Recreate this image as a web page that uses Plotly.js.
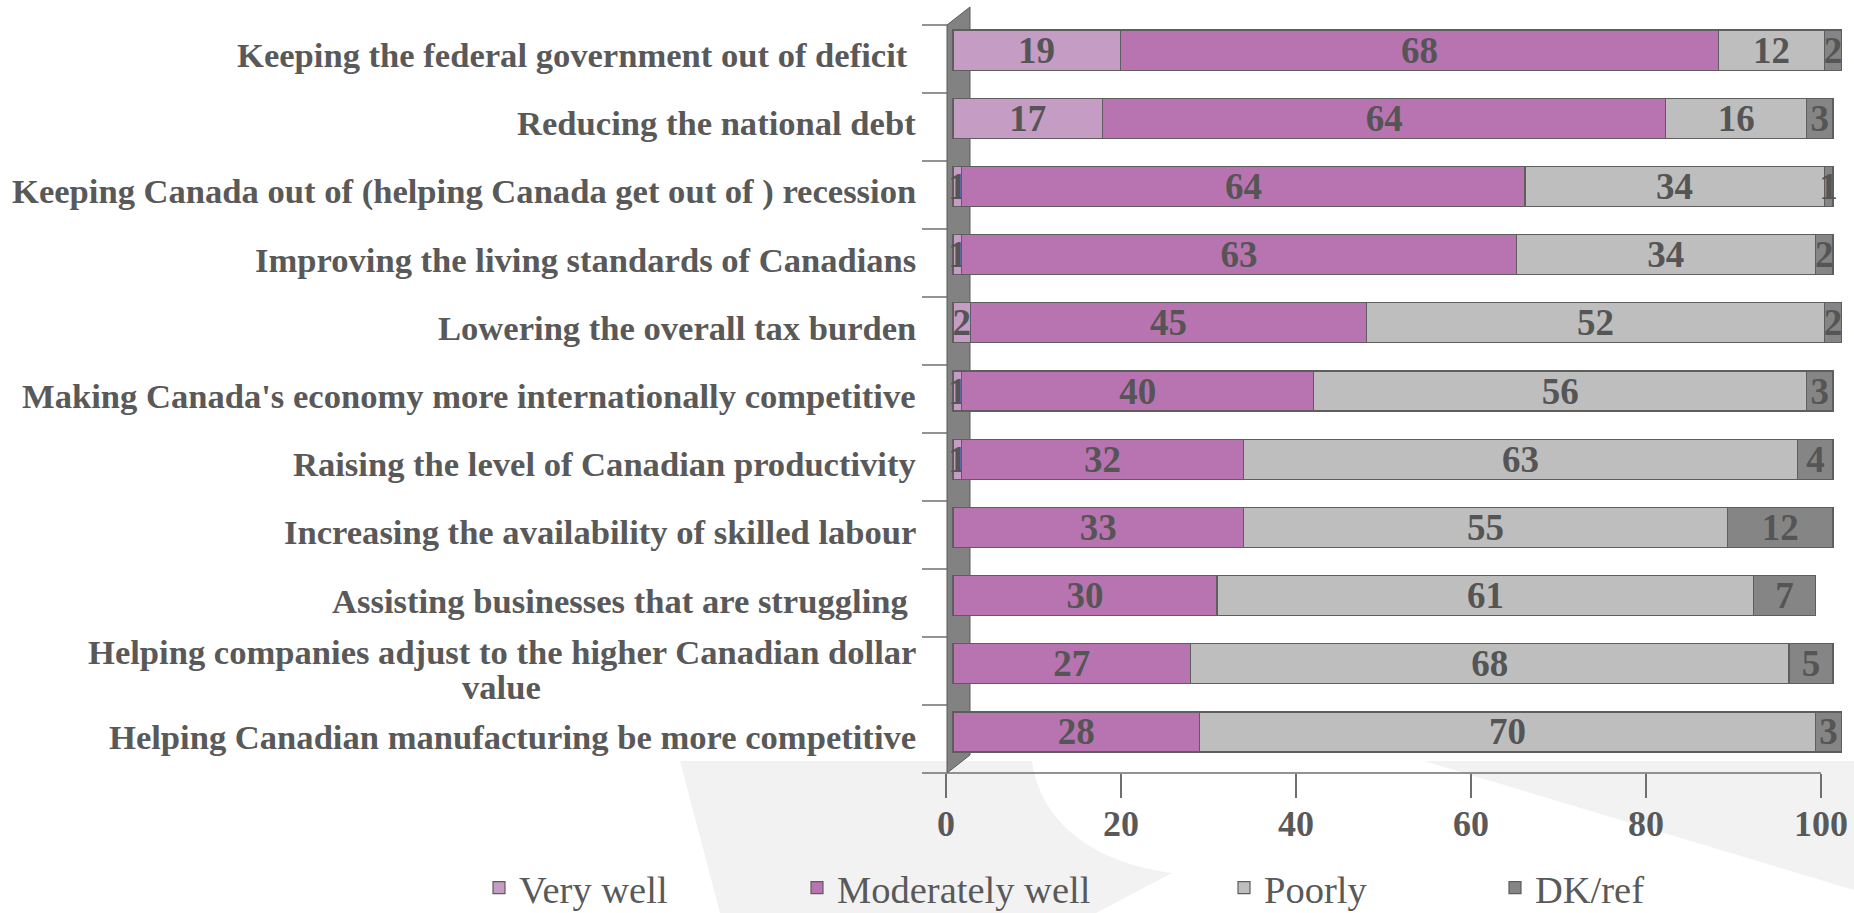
<!DOCTYPE html>
<html>
<head>
<meta charset="utf-8">
<script src="https://cdn.plot.ly/plotly-3.0.1.min.js"></script>
<style>html,body{margin:0;padding:0;background:#fff;}#chart{width:1854px;height:913px;}</style>
</head>
<body>
<div id="chart"></div>
<script>
const categories = [
  "Keeping the federal government out of deficit ",
  "Reducing the national debt",
  "Keeping Canada out of (helping Canada get out of ) recession",
  "Improving the living standards of Canadians",
  "Lowering the overall tax burden",
  "Making Canada's economy more internationally competitive",
  "Raising the level of Canadian productivity",
  "Increasing the availability of skilled labour",
  "Assisting businesses that are struggling ",
  "Helping companies adjust to the higher Canadian dollar<br>value",
  "Helping Canadian manufacturing be more competitive"
];
const veryWell       = [19, 17, 1, 1, 2, 1, 1, null, null, null, null];
const moderatelyWell = [68, 64, 64, 63, 45, 40, 32, 33, 30, 27, 28];
const poorly         = [12, 16, 34, 34, 52, 56, 63, 55, 61, 68, 70];
const dkRef          = [2, 3, 1, 2, 2, 3, 4, 12, 7, 5, 3];
const seriesNames  = ["Very well", "Moderately well", "Poorly", "DK/ref"];
const tickValues   = [0, 20, 40, 60, 80, 100];

const W = 1854, H = 913;
const X = p => p / W;
const Y = p => 1 - p / H;
const FONT = "Liberation Serif, Times New Roman, serif";
const TXT = "#595959";

const colors = ["#c49cc4", "#b874b1", "#bebebe", "#858585"];
const series = [veryWell, moderatelyWell, poorly, dkRef];
const legendX = [479, 797, 1224, 1495];
const legendIds = ["legend", "legend2", "legend3", "legend4"];

const traces = series.map((vals, i) => ({
  type: "bar",
  orientation: "h",
  name: seriesNames[i],
  x: vals,
  y: categories,
  xaxis: "x",
  yaxis: "y",
  legend: legendIds[i],
  marker: {color: colors[i], line: {color: "#5e5e5e", width: 1.2}},
  text: vals.map(v => v == null ? "" : String(v)),
  textposition: "inside",
  insidetextanchor: "middle",
  textangle: 0,
  constraintext: "none",
  cliponaxis: false,
  insidetextfont: {family: FONT, size: 37, color: "#555555", weight: 700},
  hoverinfo: "skip"
}));
// empty helper trace so that the tick axis (x2) gets its own subplot and is drawn
traces.push({type: "scatter", mode: "none", x: [], y: [], xaxis: "x2", yaxis: "y",
  showlegend: false, hoverinfo: "skip"});

const shapes = [];
shapes.push({type: "path", xref: "paper", yref: "paper", layer: "below",
  path: `M ${X(680)},${Y(761)} L ${X(1032)},${Y(761)} C ${X(1040)},${Y(820)} ${X(1090)},${Y(862)} ${X(1172)},${Y(873)} L ${X(1096)},${Y(913)} L ${X(720)},${Y(913)} Z`,
  fillcolor: "#f2f2f2", line: {width: 0}});
shapes.push({type: "path", xref: "paper", yref: "paper", layer: "below",
  path: `M ${X(1424)},${Y(761)} L ${X(1854)},${Y(761)} L ${X(1854)},${Y(890)} Z`,
  fillcolor: "#f2f2f2", line: {width: 0}});
shapes.push({type: "path", xref: "paper", yref: "paper", layer: "below",
  path: `M ${X(947)},${Y(25)} L ${X(970)},${Y(7)} L ${X(970)},${Y(755)} L ${X(947)},${Y(773)} Z`,
  fillcolor: "#828282", line: {color: "#5a5a5a", width: 1}});
shapes.push({type: "line", xref: "paper", yref: "paper", layer: "below",
  x0: X(922), x1: X(1821), y0: Y(773), y1: Y(773), line: {color: "#6f6f6f", width: 1.5}});
for (let k = 0; k < categories.length; k++) {
  const py = 25 + 68 * k;
  shapes.push({type: "line", xref: "paper", yref: "paper", layer: "below",
    x0: X(922), x1: X(947), y0: Y(py), y1: Y(py), line: {color: "#6f6f6f", width: 1.5}});
}

const labelFont = {family: FONT, size: 34.6, color: TXT, weight: 700};
const annotations = [];
categories.forEach(c => {
  const lines = c.split("<br>");
  if (lines.length === 1) {
    annotations.push({xref: "paper", yref: "y", x: X(918), y: c, xanchor: "right", yanchor: "middle",
      text: c, showarrow: false, yshift: -5, font: labelFont});
  } else {
    annotations.push({xref: "paper", yref: "y", x: X(918), y: c, xanchor: "right", yanchor: "middle",
      text: lines[0], showarrow: false, yshift: 12, font: labelFont});
    annotations.push({xref: "paper", yref: "y", x: X(501), y: c, xanchor: "center", yanchor: "middle",
      text: lines[1], showarrow: false, yshift: -23, font: labelFont});
  }
});

const layout = {
  width: W, height: H,
  margin: {l: 0, r: 0, t: 0, b: 0, pad: 0, autoexpand: false},
  paper_bgcolor: "#ffffff", plot_bgcolor: "rgba(0,0,0,0)",
  barmode: "stack", bargap: 0.413,
  showlegend: true,
  xaxis: {
    domain: [X(946), X(1850)],
    range: [(946 - 953) / 8.8, (1850 - 953) / 8.8],
    anchor: "y",
    showticklabels: false, ticks: "", showline: false, showgrid: false, zeroline: false
  },
  xaxis2: {
    overlaying: "x", anchor: "free", position: Y(773), side: "bottom",
    range: [0, (1850 - 946) / 8.75], automargin: false,
    tickvals: tickValues, ticktext: tickValues.map(String),
    ticks: "outside", ticklen: 24, tickwidth: 1.5, tickcolor: "#6f6f6f",
    ticklabelstandoff: -5,
    showline: false, showgrid: false, zeroline: false,
    tickfont: {family: FONT, size: 36, color: TXT, weight: 700}
  },
  yaxis: {
    domain: [Y(766), Y(16)], type: "category",
    categoryorder: "array", categoryarray: categories,
    range: [categories.length - 0.5, -0.5],
    showticklabels: false, ticks: "", showline: false, showgrid: false, zeroline: false
  },
  shapes: shapes,
  annotations: annotations,
  font: {family: FONT, color: TXT}
};
legendIds.forEach((id, i) => {
  layout[id] = {
    x: X(legendX[i]), y: Y(888), xanchor: "left", yanchor: "middle",
    orientation: "h", bgcolor: "rgba(0,0,0,0)",
    font: {family: FONT, size: 38.5, color: TXT}
  };
});

Plotly.newPlot("chart", traces, layout, {displayModeBar: false, staticPlot: true});
</script>
</body>
</html>
